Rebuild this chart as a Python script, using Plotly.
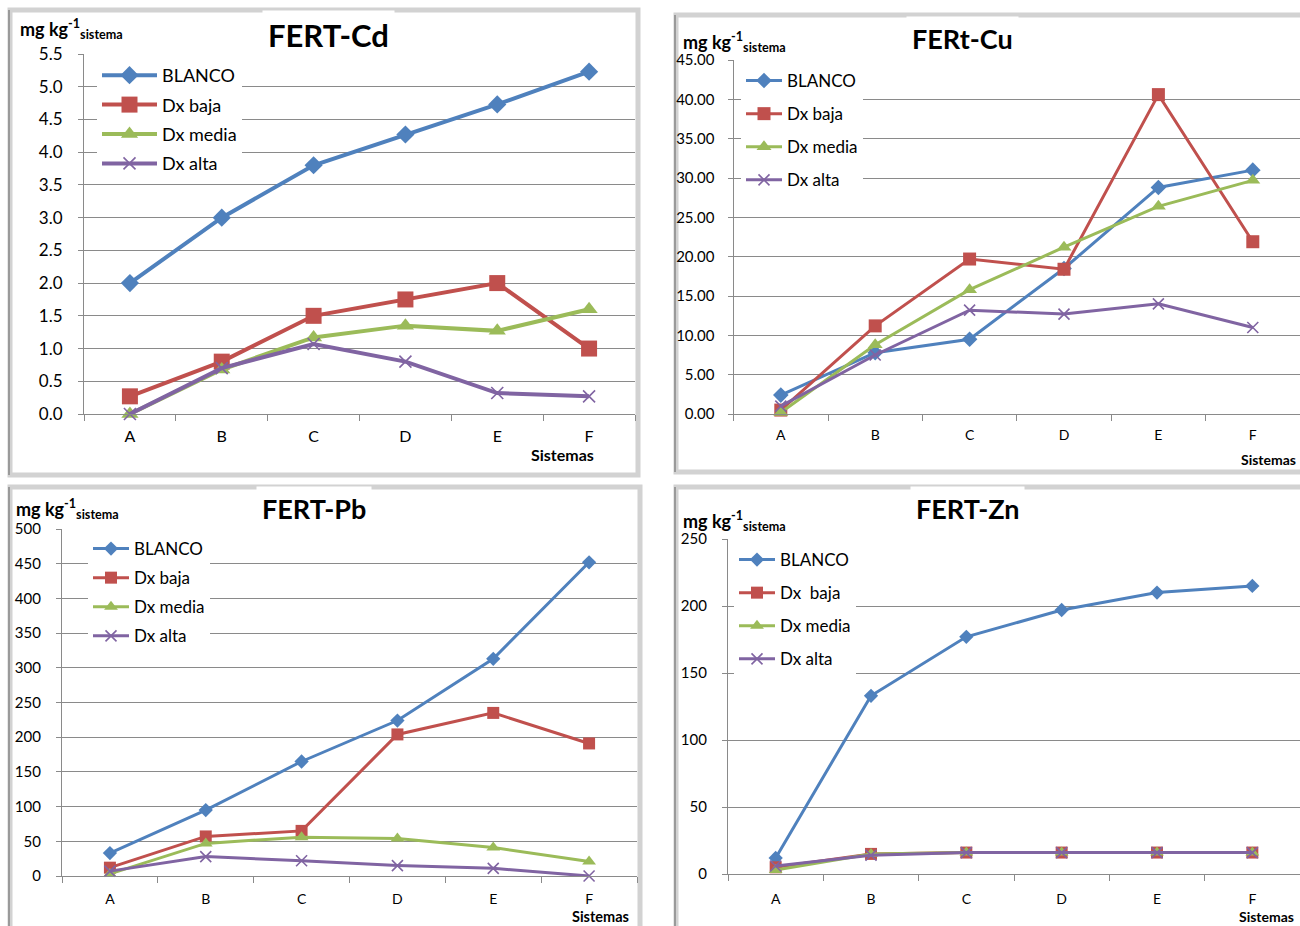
import plotly.graph_objects as go

W, H = 1300, 926

categories = ["A", "B", "C", "D", "E", "F"]
series_names = ["BLANCO", "Dx baja", "Dx media", "Dx alta"]
zn_series_names = ["BLANCO", "Dx\u00a0 baja", "Dx media", "Dx alta"]

cd_blanco = [2.0, 3.0, 3.8, 4.27, 4.73, 5.23]
cd_baja = [0.27, 0.8, 1.5, 1.75, 2.0, 1.0]
cd_media = [0.0, 0.68, 1.17, 1.35, 1.27, 1.6]
cd_alta = [0.0, 0.7, 1.07, 0.8, 0.32, 0.27]

cu_blanco = [2.4, 7.8, 9.5, 18.5, 28.8, 31.0]
cu_baja = [0.5, 11.2, 19.7, 18.4, 40.6, 21.9]
cu_media = [0.2, 8.8, 15.8, 21.2, 26.4, 29.7]
cu_alta = [1.0, 7.5, 13.2, 12.7, 14.0, 11.0]

pb_blanco = [33, 95, 165, 224, 313, 452]
pb_baja = [12, 57, 65, 204, 235, 191]
pb_media = [3, 47, 56, 54, 41, 21]
pb_alta = [7, 28, 22, 15, 11, 0]

zn_blanco = [12, 133, 177, 197, 210, 215]
zn_baja = [5, 15, 16, 16, 16, 16]
zn_media = [3, 15, 16, 16, 16, 16]
zn_alta = [6, 14, 16, 16, 16, 16]

colors = ["#4F81BD", "#C0504D", "#9BBB59", "#8064A2"]
symbols = ["diamond", "square", "triangle-up", "x-thin"]


def px(x):
    return x / W


def py(y):
    return 1 - y / H


FONT = "Lato, Carlito, 'Open Sans', sans-serif"
GRID = "#8a8a8a"

panels = [
    dict(key="1", title="FERT-Cd", data=[cd_blanco, cd_baja, cd_media, cd_alta], names=series_names,
         xd=(84, 635), yd=(414, 54), yr=(0, 5.5), dtick=0.5, fmt=".1f", lw=4, msz=[14, 16, 15, 12],
         tickfs=17, xtickfs=16, legfs=18, legx=97, legy=57, legw=55, gap=3,
         title_xy=(328, 35), title_fs=31, ylab_xy=(18, 29), ylab_fs=18,
         sist_xy=(562, 455), sist_fs=16, sist_anchor="middle", xstand=8, ystand=12),
    dict(key="2", title="FERt-Cu", data=[cu_blanco, cu_baja, cu_media, cu_alta], names=series_names,
         xd=(733.6, 1300), yd=(414, 60), yr=(0, 45), dtick=5, fmt=".2f", lw=3, msz=[12, 13, 13, 11],
         tickfs=15, xtickfs=14, legfs=17, legx=741, legy=63, legw=36, gap=8,
         title_xy=(962, 39), title_fs=27, ylab_xy=(681, 42), ylab_fs=18,
         sist_xy=(1268, 459), sist_fs=14, sist_anchor="middle", xstand=8, ystand=10),
    dict(key="3", title="FERT-Pb", data=[pb_blanco, pb_baja, pb_media, pb_alta], names=series_names,
         xd=(62, 637), yd=(876, 529), yr=(0, 500), dtick=50, fmt="d", lw=3, msz=[11, 12, 12, 11],
         tickfs=15, xtickfs=14, legfs=17, legx=88, legy=531, legw=36, gap=4,
         title_xy=(314, 509), title_fs=27, ylab_xy=(14, 509), ylab_fs=18,
         sist_xy=(600, 926), sist_fs=14.5, sist_anchor="bottom", xstand=10, ystand=12),
    dict(key="4", title="FERT-Zn", data=[zn_blanco, zn_baja, zn_media, zn_alta], names=zn_series_names,
         xd=(728, 1300), yd=(874, 539), yr=(0, 250), dtick=50, fmt="d", lw=3, msz=[11, 12, 12, 11],
         tickfs=15, xtickfs=14, legfs=17, legx=734, legy=542, legw=36, gap=8,
         title_xy=(968, 509), title_fs=27, ylab_xy=(681, 521), ylab_fs=18,
         sist_xy=(1266, 926), sist_fs=14, sist_anchor="bottom", xstand=12, ystand=12),
]

fig = go.Figure()
layout = dict(
    width=W, height=H, margin=dict(l=0, r=0, t=0, b=0, pad=0, autoexpand=False),
    paper_bgcolor="white", plot_bgcolor="rgba(0,0,0,0)",
    font=dict(family=FONT, color="#000000"),
    showlegend=True,
)
annotations = []
shapes = []

for i, p in enumerate(panels):
    k = p["key"]
    xa = "x" if k == "1" else "x" + k
    ya = "y" if k == "1" else "y" + k
    leg = "legend" if k == "1" else "legend" + k
    for j in range(4):
        mk = dict(symbol=symbols[j], size=p["msz"][j], color=colors[j])
        if symbols[j] == "x-thin":
            mk["line"] = dict(color=colors[j], width=1.6)
        else:
            mk["line"] = dict(width=0)
        fig.add_trace(go.Scatter(
            x=categories, y=p["data"][j], name=p["names"][j], mode="lines+markers",
            line=dict(color=colors[j], width=p["lw"]), marker=mk,
            xaxis=xa, yaxis=ya, legend=leg, legendgroup=k + "_" + str(j),
            cliponaxis=False,
        ))
    xname = "xaxis" if k == "1" else "xaxis" + k
    yname = "yaxis" if k == "1" else "yaxis" + k
    layout[xname] = dict(
        domain=[px(p["xd"][0]), px(p["xd"][1])], anchor=ya, type="category",
        categoryorder="array", categoryarray=categories, range=[-0.5, 5.5],
        showline=True, linecolor=GRID, linewidth=1.2, ticks="outside", tickson="boundaries",
        ticklen=6, tickcolor=GRID, tickwidth=1.2, showgrid=False, automargin=False,
        tickfont=dict(size=p["xtickfs"], family=FONT, color="#000"), ticklabelstandoff=p["xstand"],
        fixedrange=True,
    )
    layout[yname] = dict(
        domain=[py(p["yd"][0]), py(p["yd"][1])], anchor=xa, range=list(p["yr"]), dtick=p["dtick"],
        tick0=0, tickformat=p["fmt"], showline=True, linecolor=GRID, linewidth=1.2,
        ticks="outside", ticklen=5, tickcolor=GRID, tickwidth=1.2, automargin=False,
        showgrid=True, gridcolor=GRID, gridwidth=1.2, zeroline=False,
        tickfont=dict(size=p["tickfs"], family=FONT, color="#000"), ticklabelstandoff=p["ystand"],
        fixedrange=True,
    )
    layout[leg] = dict(
        x=px(p["legx"]), y=py(p["legy"]), xanchor="left", yanchor="top",
        bgcolor="white", borderwidth=0, font=dict(size=p["legfs"], family=FONT, color="#000"),
        itemwidth=p["legw"], traceorder="grouped", tracegroupgap=p["gap"],
        itemclick=False, itemdoubleclick=False,
    )
    annotations.append(dict(
        text="<b>" + p["title"] + "</b>", x=px(p["title_xy"][0]), y=py(p["title_xy"][1]),
        xref="paper", yref="paper", showarrow=False, xanchor="center", yanchor="middle",
        font=dict(size=p["title_fs"], family=FONT, color="#000"), bgcolor="white", borderpad=5,
    ))
    annotations.append(dict(
        text="<b>mg kg<sup>-1</sup><sub>sistema</sub></b>", x=px(p["ylab_xy"][0]), y=py(p["ylab_xy"][1]),
        xref="paper", yref="paper", showarrow=False, xanchor="left", yanchor="middle",
        font=dict(size=p["ylab_fs"], family=FONT, color="#000"),
    ))
    annotations.append(dict(
        text="<b>Sistemas</b>", x=px(p["sist_xy"][0]), y=py(p["sist_xy"][1]),
        xref="paper", yref="paper", showarrow=False, xanchor="center", yanchor=p["sist_anchor"],
        font=dict(size=p["sist_fs"], family=FONT, color="#000"), borderpad=0,
    ))

frames = [(10, 10, 638, 475), (676, 15, 1310, 472), (10, 487, 640, 940), (676, 487, 1310, 940)]
for (x0, y0, x1, y1) in frames:
    shapes.append(dict(type="rect", xref="paper", yref="paper", x0=px(x0), x1=px(x1), y0=py(y1), y1=py(y0),
                       line=dict(color="#d2d2d2", width=5), fillcolor="rgba(0,0,0,0)", layer="below"))
    shapes.append(dict(type="line", xref="paper", yref="paper", x0=px(x0 - 1), x1=px(x0 - 1), y0=py(min(y1, 926)), y1=py(y0),
                       line=dict(color="#9a9a9a", width=2), layer="below"))

layout["annotations"] = annotations
layout["shapes"] = shapes
fig.update_layout(**layout)
fig.write_html("out.html")
